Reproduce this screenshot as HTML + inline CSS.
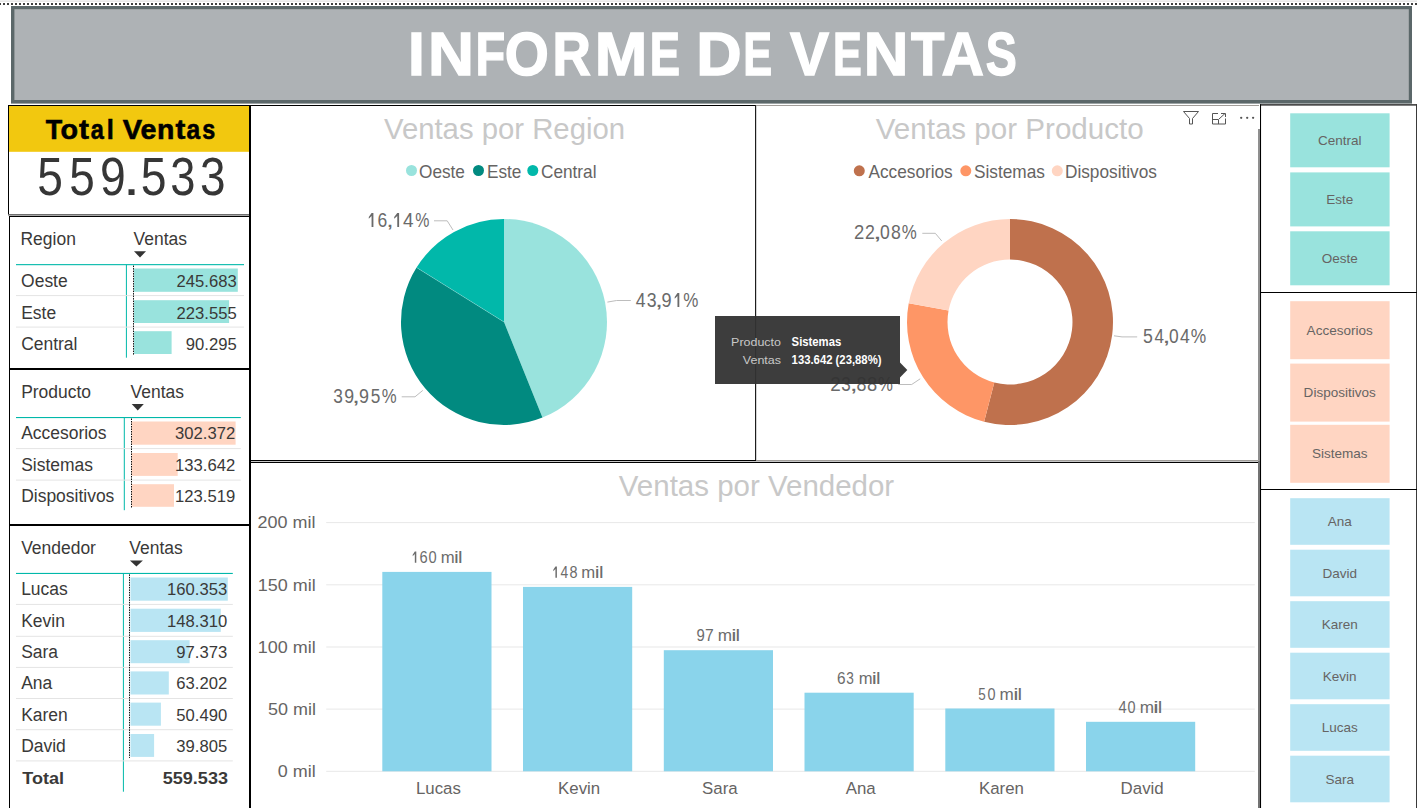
<!DOCTYPE html>
<html><head><meta charset="utf-8"><title>Informe de Ventas</title>
<style>
html,body{margin:0;padding:0;background:#fff;}
body{width:1417px;height:808px;overflow:hidden;position:relative;font-family:'Liberation Sans', sans-serif;}
.abs{position:absolute;box-sizing:border-box;}
svg{position:absolute;left:0;top:0;font-family:'Liberation Sans', sans-serif;}
</style></head><body>
<div class="abs" style="left:0;top:0;width:1417px;height:2px;background:linear-gradient(#f4f4f4,#e4e4e4)"></div>
<div class="abs" style="left:-1px;top:3px;width:1420px;height:2px;background-image:linear-gradient(to right,#404040 2px,transparent 2px);background-size:4px 2px"></div>

<svg width="1417" height="808" viewBox="0 0 1417 808">
<rect x="11" y="6" width="1401" height="97.6" fill="#5b6769"/>
<rect x="14.4" y="9.2" width="1394.4" height="90.8" fill="#aeb2b5"/>
<text x="408.03" y="74.60" font-size="60.50" fill="#ffffff" font-weight="bold" textLength="16.77" lengthAdjust="spacingAndGlyphs" stroke="#ffffff" stroke-width="1.4" stroke-linejoin="miter">I</text>
<text x="427.90" y="74.60" font-size="60.50" fill="#ffffff" font-weight="bold" textLength="45.97" lengthAdjust="spacingAndGlyphs" stroke="#ffffff" stroke-width="1.4" stroke-linejoin="miter">N</text>
<text x="475.41" y="74.60" font-size="60.50" fill="#ffffff" font-weight="bold" textLength="29.73" lengthAdjust="spacingAndGlyphs" stroke="#ffffff" stroke-width="1.4" stroke-linejoin="miter">F</text>
<text x="504.83" y="74.60" font-size="60.50" fill="#ffffff" font-weight="bold" textLength="44.09" lengthAdjust="spacingAndGlyphs" stroke="#ffffff" stroke-width="1.4" stroke-linejoin="miter">O</text>
<text x="552.41" y="74.60" font-size="60.50" fill="#ffffff" font-weight="bold" textLength="38.36" lengthAdjust="spacingAndGlyphs" stroke="#ffffff" stroke-width="1.4" stroke-linejoin="miter">R</text>
<text x="594.84" y="74.60" font-size="60.50" fill="#ffffff" font-weight="bold" textLength="52.55" lengthAdjust="spacingAndGlyphs" stroke="#ffffff" stroke-width="1.4" stroke-linejoin="miter">M</text>
<text x="649.64" y="74.60" font-size="60.50" fill="#ffffff" font-weight="bold" textLength="30.25" lengthAdjust="spacingAndGlyphs" stroke="#ffffff" stroke-width="1.4" stroke-linejoin="miter">E</text>
<text x="696.16" y="74.60" font-size="60.50" fill="#ffffff" font-weight="bold" textLength="45.39" lengthAdjust="spacingAndGlyphs" stroke="#ffffff" stroke-width="1.4" stroke-linejoin="miter">D</text>
<text x="743.18" y="74.60" font-size="60.50" fill="#ffffff" font-weight="bold" textLength="28.83" lengthAdjust="spacingAndGlyphs" stroke="#ffffff" stroke-width="1.4" stroke-linejoin="miter">E</text>
<text x="789.96" y="74.60" font-size="60.50" fill="#ffffff" font-weight="bold" textLength="39.05" lengthAdjust="spacingAndGlyphs" stroke="#ffffff" stroke-width="1.4" stroke-linejoin="miter">V</text>
<text x="832.88" y="74.60" font-size="60.50" fill="#ffffff" font-weight="bold" textLength="28.83" lengthAdjust="spacingAndGlyphs" stroke="#ffffff" stroke-width="1.4" stroke-linejoin="miter">E</text>
<text x="863.73" y="74.60" font-size="60.50" fill="#ffffff" font-weight="bold" textLength="44.62" lengthAdjust="spacingAndGlyphs" stroke="#ffffff" stroke-width="1.4" stroke-linejoin="miter">N</text>
<text x="910.95" y="74.60" font-size="60.50" fill="#ffffff" font-weight="bold" textLength="33.44" lengthAdjust="spacingAndGlyphs" stroke="#ffffff" stroke-width="1.4" stroke-linejoin="miter">T</text>
<text x="941.43" y="74.60" font-size="60.50" fill="#ffffff" font-weight="bold" textLength="42.47" lengthAdjust="spacingAndGlyphs" stroke="#ffffff" stroke-width="1.4" stroke-linejoin="miter">A</text>
<text x="985.70" y="74.60" font-size="60.50" fill="#ffffff" font-weight="bold" textLength="31.04" lengthAdjust="spacingAndGlyphs" stroke="#ffffff" stroke-width="1.4" stroke-linejoin="miter">S</text>
<rect x="8" y="105" width="1" height="110" fill="#000"/>
<rect x="8" y="105" width="243" height="1" fill="#000"/>
<rect x="8" y="214" width="241" height="1.6" fill="#6e6e6e"/>
<rect x="9" y="106" width="240" height="45.8" fill="#f2c80f"/>
<text x="45.73" y="138.90" font-size="28.30" fill="#000" font-weight="bold" textLength="16.46" lengthAdjust="spacingAndGlyphs" stroke="#000" stroke-width="0.6" stroke-linejoin="miter">T</text>
<text x="60.45" y="138.90" font-size="28.30" fill="#000" font-weight="bold" textLength="17.55" lengthAdjust="spacingAndGlyphs" stroke="#000" stroke-width="0.6" stroke-linejoin="miter">o</text>
<text x="79.03" y="138.90" font-size="28.30" fill="#000" font-weight="bold" textLength="9.96" lengthAdjust="spacingAndGlyphs" stroke="#000" stroke-width="0.6" stroke-linejoin="miter">t</text>
<text x="90.70" y="138.90" font-size="28.30" fill="#000" font-weight="bold" textLength="13.06" lengthAdjust="spacingAndGlyphs" stroke="#000" stroke-width="0.6" stroke-linejoin="miter">a</text>
<text x="106.82" y="138.90" font-size="28.30" fill="#000" font-weight="bold" textLength="7.07" lengthAdjust="spacingAndGlyphs" stroke="#000" stroke-width="0.6" stroke-linejoin="miter">l</text>
<text x="122.68" y="138.90" font-size="28.30" fill="#000" font-weight="bold" textLength="19.32" lengthAdjust="spacingAndGlyphs" stroke="#000" stroke-width="0.6" stroke-linejoin="miter">V</text>
<text x="140.56" y="138.90" font-size="28.30" fill="#000" font-weight="bold" textLength="15.91" lengthAdjust="spacingAndGlyphs" stroke="#000" stroke-width="0.6" stroke-linejoin="miter">e</text>
<text x="156.95" y="138.90" font-size="28.30" fill="#000" font-weight="bold" textLength="17.38" lengthAdjust="spacingAndGlyphs" stroke="#000" stroke-width="0.6" stroke-linejoin="miter">n</text>
<text x="175.53" y="138.90" font-size="28.30" fill="#000" font-weight="bold" textLength="9.86" lengthAdjust="spacingAndGlyphs" stroke="#000" stroke-width="0.6" stroke-linejoin="miter">t</text>
<text x="186.56" y="138.90" font-size="28.30" fill="#000" font-weight="bold" textLength="13.68" lengthAdjust="spacingAndGlyphs" stroke="#000" stroke-width="0.6" stroke-linejoin="miter">a</text>
<text x="202.18" y="138.90" font-size="28.30" fill="#000" font-weight="bold" textLength="12.98" lengthAdjust="spacingAndGlyphs" stroke="#000" stroke-width="0.6" stroke-linejoin="miter">s</text>
<text x="37.36" y="194.80" font-size="54.50" fill="#363636" font-weight="normal" textLength="25.64" lengthAdjust="spacingAndGlyphs">5</text>
<text x="69.36" y="194.80" font-size="54.50" fill="#363636" font-weight="normal" textLength="25.53" lengthAdjust="spacingAndGlyphs">5</text>
<text x="100.10" y="194.80" font-size="54.50" fill="#363636" font-weight="normal" textLength="25.73" lengthAdjust="spacingAndGlyphs">9</text>
<text x="122.66" y="194.80" font-size="54.50" fill="#363636" font-weight="normal" textLength="17.55" lengthAdjust="spacingAndGlyphs">.</text>
<text x="140.75" y="194.80" font-size="54.50" fill="#363636" font-weight="normal" textLength="25.76" lengthAdjust="spacingAndGlyphs">5</text>
<text x="170.30" y="194.80" font-size="54.50" fill="#363636" font-weight="normal" textLength="25.17" lengthAdjust="spacingAndGlyphs">3</text>
<text x="199.88" y="194.80" font-size="54.50" fill="#363636" font-weight="normal" textLength="25.53" lengthAdjust="spacingAndGlyphs">3</text>
<rect x="9" y="216" width="1" height="154" fill="#000"/>
<rect x="9" y="216" width="241" height="1" fill="#000"/>
<text x="20.50" y="245.30" font-size="17.54" fill="#3a3938" text-anchor="start" font-weight="normal" textLength="55.35" lengthAdjust="spacingAndGlyphs">Region</text>
<text x="133.60" y="245.30" font-size="17.54" fill="#3a3938" text-anchor="start" font-weight="normal" textLength="53.41" lengthAdjust="spacingAndGlyphs">Ventas</text>
<path d="M134,251.2 L146,251.2 L140.0,257.6 Z" fill="#333"/>
<rect x="16" y="264.1" width="228" height="1.1" fill="#01b8aa"/>
<rect x="125.9" y="264.6" width="1" height="93.09999999999997" fill="#01b8aa"/>
<rect x="16" y="295.1" width="228" height="1" fill="#e4e4e4"/>
<rect x="16" y="326.6" width="228" height="1" fill="#e4e4e4"/>
<rect x="134" y="268.5" width="103.8" height="23.3" fill="#99e3dd"/>
<rect x="134" y="300.2" width="95.1" height="22.8" fill="#99e3dd"/>
<rect x="134" y="331.2" width="37.6" height="22.8" fill="#99e3dd"/>
<line x1="133.5" y1="265.6" x2="133.5" y2="355" stroke="#111" stroke-width="1" stroke-dasharray="1.5,1"/>
<text x="21.10" y="286.80" font-size="17.54" fill="#3a3938" text-anchor="start" font-weight="normal" textLength="46.59" lengthAdjust="spacingAndGlyphs">Oeste</text>
<text x="236.70" y="286.80" font-size="16.92" fill="#3a3938" text-anchor="end" font-weight="normal" textLength="60.13" lengthAdjust="spacingAndGlyphs">245.683</text>
<text x="21.17" y="318.60" font-size="17.54" fill="#3a3938" text-anchor="start" font-weight="normal" textLength="34.95" lengthAdjust="spacingAndGlyphs">Este</text>
<text x="236.70" y="318.60" font-size="16.92" fill="#3a3938" text-anchor="end" font-weight="normal" textLength="60.13" lengthAdjust="spacingAndGlyphs">223.555</text>
<text x="21.17" y="349.70" font-size="17.54" fill="#3a3938" text-anchor="start" font-weight="normal" textLength="56.30" lengthAdjust="spacingAndGlyphs">Central</text>
<text x="236.70" y="349.70" font-size="16.92" fill="#3a3938" text-anchor="end" font-weight="normal" textLength="50.88" lengthAdjust="spacingAndGlyphs">90.295</text>
<rect x="9" y="368" width="1" height="158" fill="#000"/>
<rect x="9" y="368" width="241" height="2" fill="#000"/>
<text x="21.17" y="397.60" font-size="17.54" fill="#3a3938" text-anchor="start" font-weight="normal" textLength="69.90" lengthAdjust="spacingAndGlyphs">Producto</text>
<text x="130.57" y="397.60" font-size="17.54" fill="#3a3938" text-anchor="start" font-weight="normal" textLength="53.41" lengthAdjust="spacingAndGlyphs">Ventas</text>
<path d="M131.7,404 L143.8,404 L137.75,410.6 Z" fill="#333"/>
<rect x="16" y="417.0" width="224.8" height="1.1" fill="#01b8aa"/>
<rect x="123.8" y="417.5" width="1" height="92.69999999999999" fill="#01b8aa"/>
<rect x="16" y="448.1" width="224.8" height="1" fill="#e4e4e4"/>
<rect x="16" y="479.6" width="224.8" height="1" fill="#e4e4e4"/>
<rect x="131.5" y="421.5" width="104.1" height="23.2" fill="#ffd5c2"/>
<rect x="131.5" y="453" width="46.2" height="22.9" fill="#ffd5c2"/>
<rect x="131.5" y="484.2" width="42.5" height="22.6" fill="#ffd5c2"/>
<line x1="131.5" y1="418.5" x2="131.5" y2="507.8" stroke="#111" stroke-width="1" stroke-dasharray="1.5,1"/>
<text x="21.17" y="439.30" font-size="17.54" fill="#3a3938" text-anchor="start" font-weight="normal" textLength="85.41" lengthAdjust="spacingAndGlyphs">Accesorios</text>
<text x="235.20" y="439.30" font-size="16.92" fill="#3a3938" text-anchor="end" font-weight="normal" textLength="60.13" lengthAdjust="spacingAndGlyphs">302.372</text>
<text x="21.17" y="470.90" font-size="17.54" fill="#3a3938" text-anchor="start" font-weight="normal" textLength="71.82" lengthAdjust="spacingAndGlyphs">Sistemas</text>
<text x="235.20" y="470.90" font-size="16.92" fill="#3a3938" text-anchor="end" font-weight="normal" textLength="60.13" lengthAdjust="spacingAndGlyphs">133.642</text>
<text x="21.17" y="501.80" font-size="17.54" fill="#3a3938" text-anchor="start" font-weight="normal" textLength="93.17" lengthAdjust="spacingAndGlyphs">Dispositivos</text>
<text x="235.20" y="501.80" font-size="16.92" fill="#3a3938" text-anchor="end" font-weight="normal" textLength="60.13" lengthAdjust="spacingAndGlyphs">123.519</text>
<rect x="9" y="524" width="1" height="288" fill="#000"/>
<rect x="9" y="524" width="241" height="2" fill="#000"/>
<text x="21.17" y="553.80" font-size="17.54" fill="#3a3938" text-anchor="start" font-weight="normal" textLength="74.78" lengthAdjust="spacingAndGlyphs">Vendedor</text>
<text x="129.37" y="553.80" font-size="17.54" fill="#3a3938" text-anchor="start" font-weight="normal" textLength="53.41" lengthAdjust="spacingAndGlyphs">Ventas</text>
<path d="M129.9,560.4 L142.9,560.4 L136.4,566.4 Z" fill="#333"/>
<rect x="16" y="572.9" width="216.8" height="1.1" fill="#01b8aa"/>
<rect x="122.9" y="573.4" width="1" height="218.30000000000007" fill="#01b8aa"/>
<rect x="16" y="603.9" width="216.8" height="1" fill="#e4e4e4"/>
<rect x="16" y="635.8" width="216.8" height="1" fill="#e4e4e4"/>
<rect x="16" y="666.9" width="216.8" height="1" fill="#e4e4e4"/>
<rect x="16" y="698.0" width="216.8" height="1" fill="#e4e4e4"/>
<rect x="16" y="729.2" width="216.8" height="1" fill="#e4e4e4"/>
<rect x="16" y="760.4" width="216.8" height="1" fill="#e4e4e4"/>
<rect x="130.5" y="577.5" width="97.3" height="23.2" fill="#b9e5f3"/>
<rect x="130.5" y="608.7" width="90.3" height="23.2" fill="#b9e5f3"/>
<rect x="130.5" y="640.2" width="59.1" height="23.0" fill="#b9e5f3"/>
<rect x="130.5" y="671.4" width="38.3" height="23.1" fill="#b9e5f3"/>
<rect x="130.5" y="702.6" width="30.4" height="23.1" fill="#b9e5f3"/>
<rect x="130.5" y="734" width="23.6" height="22.9" fill="#b9e5f3"/>
<line x1="129.5" y1="574.4" x2="129.5" y2="757.9" stroke="#111" stroke-width="1" stroke-dasharray="1.5,1"/>
<text x="21.17" y="595.10" font-size="17.54" fill="#3a3938" text-anchor="start" font-weight="normal" textLength="46.60" lengthAdjust="spacingAndGlyphs">Lucas</text>
<text x="227.20" y="595.10" font-size="16.92" fill="#3a3938" text-anchor="end" font-weight="normal" textLength="60.13" lengthAdjust="spacingAndGlyphs">160.353</text>
<text x="21.17" y="626.70" font-size="17.54" fill="#3a3938" text-anchor="start" font-weight="normal" textLength="43.69" lengthAdjust="spacingAndGlyphs">Kevin</text>
<text x="227.20" y="626.70" font-size="16.92" fill="#3a3938" text-anchor="end" font-weight="normal" textLength="60.13" lengthAdjust="spacingAndGlyphs">148.310</text>
<text x="21.17" y="657.70" font-size="17.54" fill="#3a3938" text-anchor="start" font-weight="normal" textLength="36.89" lengthAdjust="spacingAndGlyphs">Sara</text>
<text x="227.20" y="657.70" font-size="16.92" fill="#3a3938" text-anchor="end" font-weight="normal" textLength="50.88" lengthAdjust="spacingAndGlyphs">97.373</text>
<text x="21.17" y="689.40" font-size="17.54" fill="#3a3938" text-anchor="start" font-weight="normal" textLength="31.08" lengthAdjust="spacingAndGlyphs">Ana</text>
<text x="227.20" y="689.40" font-size="16.92" fill="#3a3938" text-anchor="end" font-weight="normal" textLength="50.88" lengthAdjust="spacingAndGlyphs">63.202</text>
<text x="21.17" y="720.60" font-size="17.54" fill="#3a3938" text-anchor="start" font-weight="normal" textLength="46.61" lengthAdjust="spacingAndGlyphs">Karen</text>
<text x="227.20" y="720.60" font-size="16.92" fill="#3a3938" text-anchor="end" font-weight="normal" textLength="50.88" lengthAdjust="spacingAndGlyphs">50.490</text>
<text x="21.17" y="751.70" font-size="17.54" fill="#3a3938" text-anchor="start" font-weight="normal" textLength="44.65" lengthAdjust="spacingAndGlyphs">David</text>
<text x="227.20" y="751.70" font-size="16.92" fill="#3a3938" text-anchor="end" font-weight="normal" textLength="50.88" lengthAdjust="spacingAndGlyphs">39.805</text>
<text x="22.30" y="783.90" font-size="16.97" fill="#3a3938" text-anchor="start" font-weight="bold" textLength="41.81" lengthAdjust="spacingAndGlyphs">Total</text>
<text x="228.00" y="783.90" font-size="16.97" fill="#3a3938" text-anchor="end" font-weight="bold" textLength="65.30" lengthAdjust="spacingAndGlyphs">559.533</text>
<rect x="251" y="105" width="505" height="1" fill="#000"/>
<rect x="755" y="105" width="1" height="356" fill="#1e1e1e"/>
<rect x="756" y="106" width="1" height="354" fill="#d4d4d4"/>
<rect x="251" y="460" width="505" height="1" fill="#000"/>
<text x="504.50" y="139.00" font-size="28.95" fill="#c8c8c8" text-anchor="middle" font-weight="normal" textLength="241.06" lengthAdjust="spacingAndGlyphs">Ventas por Region</text>
<circle cx="411.5" cy="170.5" r="5.5" fill="#99e3dd"/>
<text x="419.00" y="177.50" font-size="18.54" fill="#666463" text-anchor="start" font-weight="normal" textLength="45.95" lengthAdjust="spacingAndGlyphs">Oeste</text>
<circle cx="478.5" cy="170.5" r="5.5" fill="#018a80"/>
<text x="487.00" y="177.50" font-size="18.54" fill="#666463" text-anchor="start" font-weight="normal" textLength="34.46" lengthAdjust="spacingAndGlyphs">Este</text>
<circle cx="532.8" cy="170.5" r="5.5" fill="#01b8aa"/>
<text x="541.00" y="177.50" font-size="18.54" fill="#666463" text-anchor="start" font-weight="normal" textLength="55.52" lengthAdjust="spacingAndGlyphs">Central</text>
<path d="M504,322 L504.00,219.00 A103,103 0 0 1 542.46,417.55 Z" fill="#99e3dd"/>
<path d="M504,322 L542.46,417.55 A103,103 0 0 1 416.55,267.58 Z" fill="#018a80"/>
<path d="M504,322 L416.55,267.58 A103,103 0 0 1 504.00,219.00 Z" fill="#01b8aa"/>
<path d="M504,322 L416.55,267.58" fill="none" stroke="#fff" stroke-width="0.5" stroke-opacity="0.45"/>
<path d="M371.57,213.08 L373.40,213.08 L373.40,226.90 L371.57,226.90 Z M371.57,213.08 L371.57,216.01 L368.80,218.77 L368.80,216.94 Z" fill="#6a6a6a"/>
<text x="377.62" y="226.90" font-size="19.30" fill="#6a6a6a" font-weight="normal" textLength="9.74" lengthAdjust="spacingAndGlyphs">6</text>
<text x="386.20" y="226.90" font-size="19.30" fill="#6a6a6a" font-weight="normal" textLength="7.41" lengthAdjust="spacingAndGlyphs">,</text>
<path d="M397.27,213.08 L399.10,213.08 L399.10,226.90 L397.27,226.90 Z M397.27,213.08 L397.27,216.01 L394.20,218.77 L394.20,216.94 Z" fill="#6a6a6a"/>
<text x="402.97" y="226.90" font-size="19.30" fill="#6a6a6a" font-weight="normal" textLength="10.57" lengthAdjust="spacingAndGlyphs">4</text>
<text x="415.24" y="226.90" font-size="19.30" fill="#6a6a6a" font-weight="normal" textLength="14.14" lengthAdjust="spacingAndGlyphs">%</text>
<polyline points="434,220.8 447.2,220.8 453,230" fill="none" stroke="#bdbdbd" stroke-width="1"/>
<text x="635.70" y="306.90" font-size="19.30" fill="#6a6a6a" font-weight="normal" textLength="9.80" lengthAdjust="spacingAndGlyphs">4</text>
<text x="646.84" y="306.90" font-size="19.30" fill="#6a6a6a" font-weight="normal" textLength="9.84" lengthAdjust="spacingAndGlyphs">3</text>
<text x="655.12" y="306.90" font-size="19.30" fill="#6a6a6a" font-weight="normal" textLength="7.98" lengthAdjust="spacingAndGlyphs">,</text>
<text x="661.44" y="306.90" font-size="19.30" fill="#6a6a6a" font-weight="normal" textLength="10.10" lengthAdjust="spacingAndGlyphs">9</text>
<path d="M677.47,293.08 L679.30,293.08 L679.30,306.90 L677.47,306.90 Z M677.47,293.08 L677.47,296.01 L674.70,298.77 L674.70,296.94 Z" fill="#6a6a6a"/>
<text x="683.30" y="306.90" font-size="19.30" fill="#6a6a6a" font-weight="normal" textLength="15.12" lengthAdjust="spacingAndGlyphs">%</text>
<polyline points="607.4,302.1 616.6,300.5 630.8,300.5" fill="none" stroke="#bdbdbd" stroke-width="1"/>
<text x="333.15" y="402.80" font-size="19.30" fill="#6a6a6a" font-weight="normal" textLength="9.60" lengthAdjust="spacingAndGlyphs">3</text>
<text x="344.16" y="402.80" font-size="19.30" fill="#6a6a6a" font-weight="normal" textLength="9.86" lengthAdjust="spacingAndGlyphs">9</text>
<text x="352.12" y="402.80" font-size="19.30" fill="#6a6a6a" font-weight="normal" textLength="7.98" lengthAdjust="spacingAndGlyphs">,</text>
<text x="358.95" y="402.80" font-size="19.30" fill="#6a6a6a" font-weight="normal" textLength="9.98" lengthAdjust="spacingAndGlyphs">9</text>
<text x="370.71" y="402.80" font-size="19.30" fill="#6a6a6a" font-weight="normal" textLength="9.60" lengthAdjust="spacingAndGlyphs">5</text>
<text x="381.81" y="402.80" font-size="19.30" fill="#6a6a6a" font-weight="normal" textLength="14.90" lengthAdjust="spacingAndGlyphs">%</text>
<polyline points="401.7,396.8 415,396.8 422.8,390.4" fill="none" stroke="#bdbdbd" stroke-width="1"/>
<rect x="756" y="105" width="503" height="1" fill="#a19d99"/>
<rect x="1258" y="129" width="2" height="332" fill="#8f8f8f"/>
<rect x="756" y="460" width="503" height="1" fill="#a09d99"/>
<text x="1009.70" y="138.80" font-size="28.96" fill="#c8c8c8" text-anchor="middle" font-weight="normal" textLength="267.98" lengthAdjust="spacingAndGlyphs">Ventas por Producto</text>
<circle cx="859.3" cy="170.8" r="5.5" fill="#bf714d"/>
<text x="868.50" y="177.70" font-size="18.54" fill="#666463" text-anchor="start" font-weight="normal" textLength="84.23" lengthAdjust="spacingAndGlyphs">Accesorios</text>
<circle cx="965.8" cy="170.8" r="5.5" fill="#fe9666"/>
<text x="974.00" y="177.70" font-size="18.54" fill="#666463" text-anchor="start" font-weight="normal" textLength="70.83" lengthAdjust="spacingAndGlyphs">Sistemas</text>
<circle cx="1057.3" cy="170.8" r="5.5" fill="#ffd5c2"/>
<text x="1065.00" y="177.70" font-size="18.54" fill="#666463" text-anchor="start" font-weight="normal" textLength="91.88" lengthAdjust="spacingAndGlyphs">Dispositivos</text>
<path d="M1010.00,219.00 A103,103 0 1 1 984.13,421.70 L994.30,382.50 A62.5,62.5 0 1 0 1010.00,259.50 Z" fill="#bf714d"/>
<path d="M984.13,421.70 A103,103 0 0 1 908.73,303.21 L948.55,310.60 A62.5,62.5 0 0 0 994.30,382.50 Z" fill="#fe9666"/>
<path d="M908.73,303.21 A103,103 0 0 1 1010.00,219.00 L1010.00,259.50 A62.5,62.5 0 0 0 948.55,310.60 Z" fill="#ffd5c2"/>
<text x="853.88" y="238.80" font-size="19.30" fill="#6a6a6a" font-weight="normal" textLength="10.27" lengthAdjust="spacingAndGlyphs">2</text>
<text x="865.11" y="238.80" font-size="19.30" fill="#6a6a6a" font-weight="normal" textLength="9.90" lengthAdjust="spacingAndGlyphs">2</text>
<text x="873.04" y="238.80" font-size="19.30" fill="#6a6a6a" font-weight="normal" textLength="8.83" lengthAdjust="spacingAndGlyphs">,</text>
<text x="880.00" y="238.80" font-size="19.30" fill="#6a6a6a" font-weight="normal" textLength="9.78" lengthAdjust="spacingAndGlyphs">0</text>
<text x="890.95" y="238.80" font-size="19.30" fill="#6a6a6a" font-weight="normal" textLength="9.82" lengthAdjust="spacingAndGlyphs">8</text>
<text x="901.71" y="238.80" font-size="19.30" fill="#6a6a6a" font-weight="normal" textLength="15.01" lengthAdjust="spacingAndGlyphs">%</text>
<polyline points="922.3,233.3 935.3,233.3 941.7,240.9" fill="none" stroke="#bdbdbd" stroke-width="1"/>
<text x="1143.09" y="342.80" font-size="19.30" fill="#6a6a6a" font-weight="normal" textLength="9.84" lengthAdjust="spacingAndGlyphs">5</text>
<text x="1154.42" y="342.80" font-size="19.30" fill="#6a6a6a" font-weight="normal" textLength="9.47" lengthAdjust="spacingAndGlyphs">4</text>
<text x="1162.62" y="342.80" font-size="19.30" fill="#6a6a6a" font-weight="normal" textLength="7.98" lengthAdjust="spacingAndGlyphs">,</text>
<text x="1169.10" y="342.80" font-size="19.30" fill="#6a6a6a" font-weight="normal" textLength="9.67" lengthAdjust="spacingAndGlyphs">0</text>
<text x="1180.00" y="342.80" font-size="19.30" fill="#6a6a6a" font-weight="normal" textLength="9.80" lengthAdjust="spacingAndGlyphs">4</text>
<text x="1190.79" y="342.80" font-size="19.30" fill="#6a6a6a" font-weight="normal" textLength="15.44" lengthAdjust="spacingAndGlyphs">%</text>
<polyline points="1114,335.8 1122,336.9 1137.2,336.9" fill="none" stroke="#bdbdbd" stroke-width="1"/>
<text x="830.15" y="390.70" font-size="19.30" fill="#6a6a6a" font-weight="normal" textLength="10.51" lengthAdjust="spacingAndGlyphs">2</text>
<text x="841.16" y="390.70" font-size="19.30" fill="#6a6a6a" font-weight="normal" textLength="9.48" lengthAdjust="spacingAndGlyphs">3</text>
<text x="849.82" y="390.70" font-size="19.30" fill="#6a6a6a" font-weight="normal" textLength="7.98" lengthAdjust="spacingAndGlyphs">,</text>
<text x="856.44" y="390.70" font-size="19.30" fill="#6a6a6a" font-weight="normal" textLength="9.94" lengthAdjust="spacingAndGlyphs">8</text>
<text x="866.92" y="390.70" font-size="19.30" fill="#6a6a6a" font-weight="normal" textLength="10.18" lengthAdjust="spacingAndGlyphs">8</text>
<text x="878.01" y="390.70" font-size="19.30" fill="#6a6a6a" font-weight="normal" textLength="14.90" lengthAdjust="spacingAndGlyphs">%</text>
<polyline points="898.3,384.5 911.7,384.5 920.2,378.8" fill="none" stroke="#bdbdbd" stroke-width="1"/>
<path d="M1183.5,111.5 L1198.5,111.5 L1192.5,118.5 L1192.5,124 L1189.5,124 L1189.5,118.5 Z" fill="none" stroke="#555" stroke-width="1"/>
<path d="M1218,113.5 L1212.5,113.5 L1212.5,124 L1225.5,124 L1225.5,118.5 M1212.5,119.5 L1218.5,119.5 L1218.5,124 M1219,119 L1225,113.5 M1221,113.5 L1225.5,113.5 L1225.5,117" fill="none" stroke="#555" stroke-width="1"/>
<circle cx="1241.2" cy="117.8" r="1.15" fill="#555"/>
<circle cx="1247.2" cy="117.8" r="1.15" fill="#555"/>
<circle cx="1253.1" cy="117.8" r="1.15" fill="#555"/>
<rect x="251" y="461" width="1007" height="1" fill="#c8c8c8"/>
<rect x="251" y="462" width="1007" height="1" fill="#000"/>
<rect x="1258" y="461" width="2" height="347" fill="#737373"/>
<rect x="249" y="105" width="2" height="703" fill="#000"/>
<text x="756.50" y="495.60" font-size="28.98" fill="#c8c8c8" text-anchor="middle" font-weight="normal" textLength="275.38" lengthAdjust="spacingAndGlyphs">Ventas por Vendedor</text>
<rect x="326.2" y="770.8" width="928.6" height="1" fill="#e8e8e8"/>
<text x="315.70" y="777.10" font-size="16.63" fill="#666463" text-anchor="end" font-weight="normal" textLength="37.93" lengthAdjust="spacingAndGlyphs">0 mil</text>
<rect x="326.2" y="708.6" width="928.6" height="1" fill="#e8e8e8"/>
<text x="316.00" y="714.93" font-size="16.63" fill="#666463" text-anchor="end" font-weight="normal" textLength="47.92" lengthAdjust="spacingAndGlyphs">50 mil</text>
<rect x="326.2" y="646.5" width="928.6" height="1" fill="#e8e8e8"/>
<text x="315.70" y="652.76" font-size="16.63" fill="#666463" text-anchor="end" font-weight="normal" textLength="57.92" lengthAdjust="spacingAndGlyphs">100 mil</text>
<rect x="326.2" y="584.3" width="928.6" height="1" fill="#e8e8e8"/>
<text x="315.70" y="590.59" font-size="16.63" fill="#666463" text-anchor="end" font-weight="normal" textLength="57.92" lengthAdjust="spacingAndGlyphs">150 mil</text>
<rect x="326.2" y="522.1" width="928.6" height="1" fill="#e8e8e8"/>
<text x="315.40" y="528.42" font-size="16.63" fill="#666463" text-anchor="end" font-weight="normal" textLength="57.92" lengthAdjust="spacingAndGlyphs">200 mil</text>
<rect x="382.3" y="571.9" width="109.2" height="199.4" fill="#8ad4eb"/>
<path d="M414.82,551.53 L416.30,551.53 L416.30,562.70 L414.82,562.70 Z M414.82,551.53 L414.82,553.90 L412.70,556.13 L412.70,554.65 Z" fill="#6c6c6c"/>
<text x="419.56" y="562.70" font-size="15.60" fill="#6c6c6c" font-weight="normal" textLength="8.18" lengthAdjust="spacingAndGlyphs">6</text>
<text x="428.41" y="562.70" font-size="15.60" fill="#6c6c6c" font-weight="normal" textLength="8.15" lengthAdjust="spacingAndGlyphs">0</text>
<text x="440.77" y="562.70" font-size="15.60" fill="#6c6c6c" font-weight="normal" textLength="13.92" lengthAdjust="spacingAndGlyphs">m</text>
<text x="454.03" y="562.70" font-size="15.60" fill="#6c6c6c" font-weight="normal" textLength="4.82" lengthAdjust="spacingAndGlyphs">i</text>
<text x="458.11" y="562.70" font-size="15.60" fill="#6c6c6c" font-weight="normal" textLength="4.57" lengthAdjust="spacingAndGlyphs">l</text>
<text x="438.40" y="793.80" font-size="17.19" fill="#666463" text-anchor="middle" font-weight="normal" textLength="44.95" lengthAdjust="spacingAndGlyphs">Lucas</text>
<rect x="523.0" y="586.9" width="109.2" height="184.4" fill="#8ad4eb"/>
<path d="M555.42,566.53 L556.90,566.53 L556.90,577.70 L555.42,577.70 Z M555.42,566.53 L555.42,568.90 L553.30,571.13 L553.30,569.65 Z" fill="#6c6c6c"/>
<text x="560.39" y="577.70" font-size="15.60" fill="#6c6c6c" font-weight="normal" textLength="7.71" lengthAdjust="spacingAndGlyphs">4</text>
<text x="569.39" y="577.70" font-size="15.60" fill="#6c6c6c" font-weight="normal" textLength="8.05" lengthAdjust="spacingAndGlyphs">8</text>
<text x="581.17" y="577.70" font-size="15.60" fill="#6c6c6c" font-weight="normal" textLength="13.92" lengthAdjust="spacingAndGlyphs">m</text>
<text x="594.83" y="577.70" font-size="15.60" fill="#6c6c6c" font-weight="normal" textLength="4.82" lengthAdjust="spacingAndGlyphs">i</text>
<text x="598.91" y="577.70" font-size="15.60" fill="#6c6c6c" font-weight="normal" textLength="4.57" lengthAdjust="spacingAndGlyphs">l</text>
<text x="579.15" y="793.80" font-size="17.19" fill="#666463" text-anchor="middle" font-weight="normal" textLength="42.14" lengthAdjust="spacingAndGlyphs">Kevin</text>
<rect x="663.8" y="650.2" width="109.2" height="121.1" fill="#8ad4eb"/>
<text x="696.39" y="640.80" font-size="15.60" fill="#6c6c6c" font-weight="normal" textLength="8.30" lengthAdjust="spacingAndGlyphs">9</text>
<text x="705.08" y="640.80" font-size="15.60" fill="#6c6c6c" font-weight="normal" textLength="8.73" lengthAdjust="spacingAndGlyphs">7</text>
<text x="717.74" y="640.80" font-size="15.60" fill="#6c6c6c" font-weight="normal" textLength="14.28" lengthAdjust="spacingAndGlyphs">m</text>
<text x="731.38" y="640.80" font-size="15.60" fill="#6c6c6c" font-weight="normal" textLength="5.33" lengthAdjust="spacingAndGlyphs">i</text>
<text x="735.61" y="640.80" font-size="15.60" fill="#6c6c6c" font-weight="normal" textLength="4.57" lengthAdjust="spacingAndGlyphs">l</text>
<text x="719.90" y="793.80" font-size="17.19" fill="#666463" text-anchor="middle" font-weight="normal" textLength="35.58" lengthAdjust="spacingAndGlyphs">Sara</text>
<rect x="804.5" y="692.7" width="109.2" height="78.6" fill="#8ad4eb"/>
<text x="836.93" y="683.80" font-size="15.60" fill="#6c6c6c" font-weight="normal" textLength="8.54" lengthAdjust="spacingAndGlyphs">6</text>
<text x="846.19" y="683.80" font-size="15.60" fill="#6c6c6c" font-weight="normal" textLength="7.61" lengthAdjust="spacingAndGlyphs">3</text>
<text x="858.68" y="683.80" font-size="15.60" fill="#6c6c6c" font-weight="normal" textLength="13.80" lengthAdjust="spacingAndGlyphs">m</text>
<text x="871.76" y="683.80" font-size="15.60" fill="#6c6c6c" font-weight="normal" textLength="5.08" lengthAdjust="spacingAndGlyphs">i</text>
<text x="876.11" y="683.80" font-size="15.60" fill="#6c6c6c" font-weight="normal" textLength="4.57" lengthAdjust="spacingAndGlyphs">l</text>
<text x="860.65" y="793.80" font-size="17.19" fill="#666463" text-anchor="middle" font-weight="normal" textLength="29.97" lengthAdjust="spacingAndGlyphs">Ana</text>
<rect x="945.3" y="708.5" width="109.2" height="62.8" fill="#8ad4eb"/>
<text x="978.36" y="699.80" font-size="15.60" fill="#6c6c6c" font-weight="normal" textLength="7.49" lengthAdjust="spacingAndGlyphs">5</text>
<text x="987.42" y="699.80" font-size="15.60" fill="#6c6c6c" font-weight="normal" textLength="8.04" lengthAdjust="spacingAndGlyphs">0</text>
<text x="999.64" y="699.80" font-size="15.60" fill="#6c6c6c" font-weight="normal" textLength="14.28" lengthAdjust="spacingAndGlyphs">m</text>
<text x="1013.28" y="699.80" font-size="15.60" fill="#6c6c6c" font-weight="normal" textLength="5.33" lengthAdjust="spacingAndGlyphs">i</text>
<text x="1017.51" y="699.80" font-size="15.60" fill="#6c6c6c" font-weight="normal" textLength="4.57" lengthAdjust="spacingAndGlyphs">l</text>
<text x="1001.40" y="793.80" font-size="17.19" fill="#666463" text-anchor="middle" font-weight="normal" textLength="44.95" lengthAdjust="spacingAndGlyphs">Karen</text>
<rect x="1086.0" y="721.8" width="109.2" height="49.5" fill="#8ad4eb"/>
<text x="1118.57" y="712.80" font-size="15.60" fill="#6c6c6c" font-weight="normal" textLength="8.15" lengthAdjust="spacingAndGlyphs">4</text>
<text x="1127.62" y="712.80" font-size="15.60" fill="#6c6c6c" font-weight="normal" textLength="8.04" lengthAdjust="spacingAndGlyphs">0</text>
<text x="1139.84" y="712.80" font-size="15.60" fill="#6c6c6c" font-weight="normal" textLength="14.28" lengthAdjust="spacingAndGlyphs">m</text>
<text x="1153.13" y="712.80" font-size="15.60" fill="#6c6c6c" font-weight="normal" textLength="5.84" lengthAdjust="spacingAndGlyphs">i</text>
<text x="1157.71" y="712.80" font-size="15.60" fill="#6c6c6c" font-weight="normal" textLength="4.57" lengthAdjust="spacingAndGlyphs">l</text>
<text x="1142.15" y="793.80" font-size="17.19" fill="#666463" text-anchor="middle" font-weight="normal" textLength="43.07" lengthAdjust="spacingAndGlyphs">David</text>
<rect x="1260" y="104.3" width="157" height="1.2" fill="#000"/>
<rect x="1260" y="104.3" width="1.05" height="704" fill="#000"/>
<rect x="1416" y="104.3" width="1" height="704" fill="#3a3a3a"/>
<rect x="1260" y="292" width="157" height="1" fill="#000"/>
<rect x="1260" y="489" width="157" height="1" fill="#000"/>
<rect x="1290.2" y="113.3" width="99.4" height="54" fill="#99e3dd"/>
<text x="1339.70" y="144.90" font-size="12.35" fill="#666463" text-anchor="middle" font-weight="normal" textLength="43.59" lengthAdjust="spacingAndGlyphs">Central</text>
<rect x="1290.2" y="172.4" width="99.4" height="54" fill="#99e3dd"/>
<text x="1339.70" y="204.00" font-size="12.35" fill="#666463" text-anchor="middle" font-weight="normal" textLength="27.05" lengthAdjust="spacingAndGlyphs">Este</text>
<rect x="1290.2" y="231.3" width="99.4" height="54" fill="#99e3dd"/>
<text x="1339.70" y="262.90" font-size="12.35" fill="#666463" text-anchor="middle" font-weight="normal" textLength="36.07" lengthAdjust="spacingAndGlyphs">Oeste</text>
<rect x="1290.2" y="301.2" width="99.4" height="58" fill="#ffd5c2"/>
<text x="1339.70" y="334.80" font-size="12.35" fill="#666463" text-anchor="middle" font-weight="normal" textLength="66.12" lengthAdjust="spacingAndGlyphs">Accesorios</text>
<rect x="1290.2" y="363.6" width="99.4" height="58" fill="#ffd5c2"/>
<text x="1339.70" y="397.20" font-size="12.35" fill="#666463" text-anchor="middle" font-weight="normal" textLength="72.13" lengthAdjust="spacingAndGlyphs">Dispositivos</text>
<rect x="1290.2" y="424.8" width="99.4" height="58" fill="#ffd5c2"/>
<text x="1339.70" y="458.40" font-size="12.35" fill="#666463" text-anchor="middle" font-weight="normal" textLength="55.60" lengthAdjust="spacingAndGlyphs">Sistemas</text>
<rect x="1290.2" y="498.2" width="99.4" height="46.6" fill="#b9e5f3"/>
<text x="1339.70" y="526.10" font-size="12.35" fill="#666463" text-anchor="middle" font-weight="normal" textLength="24.06" lengthAdjust="spacingAndGlyphs">Ana</text>
<rect x="1290.2" y="549.7" width="99.4" height="46.6" fill="#b9e5f3"/>
<text x="1339.70" y="577.60" font-size="12.35" fill="#666463" text-anchor="middle" font-weight="normal" textLength="34.57" lengthAdjust="spacingAndGlyphs">David</text>
<rect x="1290.2" y="601.2" width="99.4" height="46.6" fill="#b9e5f3"/>
<text x="1339.70" y="629.10" font-size="12.35" fill="#666463" text-anchor="middle" font-weight="normal" textLength="36.08" lengthAdjust="spacingAndGlyphs">Karen</text>
<rect x="1290.2" y="652.7" width="99.4" height="46.6" fill="#b9e5f3"/>
<text x="1339.70" y="680.60" font-size="12.35" fill="#666463" text-anchor="middle" font-weight="normal" textLength="33.82" lengthAdjust="spacingAndGlyphs">Kevin</text>
<rect x="1290.2" y="704.2" width="99.4" height="46.6" fill="#b9e5f3"/>
<text x="1339.70" y="732.10" font-size="12.35" fill="#666463" text-anchor="middle" font-weight="normal" textLength="36.08" lengthAdjust="spacingAndGlyphs">Lucas</text>
<rect x="1290.2" y="755.7" width="99.4" height="46.6" fill="#b9e5f3"/>
<text x="1339.70" y="783.60" font-size="12.35" fill="#666463" text-anchor="middle" font-weight="normal" textLength="28.56" lengthAdjust="spacingAndGlyphs">Sara</text>
<g opacity="0.95">
<rect x="715" y="316" width="185" height="68" fill="#333333"/>
<path d="M900,362.5 L907.3,370 L900,377.5 Z" fill="#333333"/>
</g>
<text x="781.00" y="346.10" font-size="11.84" fill="#c8c8c8" text-anchor="end" font-weight="normal" textLength="49.92" lengthAdjust="spacingAndGlyphs">Producto</text>
<text x="781.00" y="363.70" font-size="11.84" fill="#c8c8c8" text-anchor="end" font-weight="normal" textLength="38.14" lengthAdjust="spacingAndGlyphs">Ventas</text>
<text x="791.60" y="346.10" font-size="12.00" fill="#ffffff" text-anchor="start" font-weight="bold" textLength="49.65" lengthAdjust="spacingAndGlyphs">Sistemas</text>
<text x="791.60" y="363.70" font-size="12.00" fill="#ffffff" text-anchor="start" font-weight="bold" textLength="89.88" lengthAdjust="spacingAndGlyphs">133.642 (23,88%)</text>
</svg>
</body></html>
